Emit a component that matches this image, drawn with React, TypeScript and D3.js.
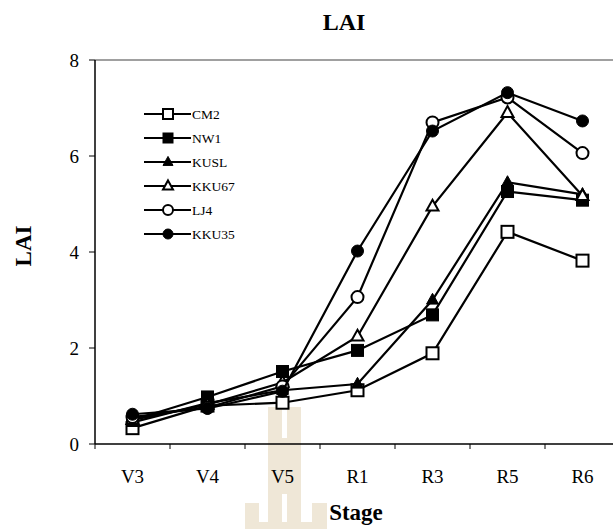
import React from 'react';
import * as d3 from 'd3';

const stages = ['V3', 'V4', 'V5', 'R1', 'R3', 'R5', 'R6'];
const yTicks = [0, 2, 4, 6, 8];

const seriesNames = ['CM2', 'NW1', 'KUSL', 'KKU67', 'LJ4', 'KKU35'];
const cm2 = [0.33, 0.8, 0.86, 1.12, 1.89, 4.42, 3.82];
const nw1 = [0.5, 0.98, 1.51, 1.95, 2.69, 5.26, 5.08];
const kusl = [0.45, 0.85, 1.12, 1.25, 3.0, 5.45, 5.2];
const kku67 = [0.5, 0.82, 1.28, 2.24, 4.95, 6.9, 5.17];
const lj4 = [0.56, 0.76, 1.2, 3.06, 6.7, 7.22, 6.06];
const kku35 = [0.62, 0.74, 1.1, 4.02, 6.52, 7.32, 6.73];
const markers = ['openSquare', 'square', 'triangle', 'openTriangle', 'openCircle', 'circle'];

const W = 613;
const H = 529;
const font = '"Liberation Serif", "Times New Roman", serif';

function Marker({ kind, x, y, s }: { kind: string; x: number; y: number; s: number }) {
  const open = kind.startsWith('open');
  const fill = open ? '#fff' : '#000';
  const sw = open ? 2 : 1;
  if (kind.toLowerCase().includes('square')) {
    return <rect x={x - s / 2} y={y - s / 2} width={s} height={s} fill={fill} stroke="#000" strokeWidth={sw} />;
  }
  if (kind.toLowerCase().includes('circle')) {
    return <circle cx={x} cy={y} r={s / 2} fill={fill} stroke="#000" strokeWidth={sw} />;
  }
  const h = s * 0.9;
  const p = `M${x},${y - h * 0.62}L${x + s / 2},${y + h * 0.38}L${x - s / 2},${y + h * 0.38}Z`;
  return <path d={p} fill={fill} stroke="#000" strokeWidth={sw} strokeLinejoin="miter" />;
}

export default function App() {
  const data = [cm2, nw1, kusl, kku67, lj4, kku35];

  const x = d3.scaleBand().domain(stages).range([95, 620]).padding(0);
  const y = d3.scaleLinear().domain([0, 8]).range([444, 60]);
  const cx = (s: string) => (x(s) as number) + x.bandwidth() / 2;

  const line = d3
    .line<number>()
    .x((_, i) => cx(stages[i]))
    .y((d) => y(d));

  return (
    <svg width={W} height={H} style={{ position: 'absolute', left: 0, top: 0, background: '#fff' }} fontFamily={font}>
      {/* watermark */}
      <g fill="#efe7d7">
        <rect x={268} y={407} width={33} height={122} />
        <rect x={245} y={503} width={14} height={26} />
        <rect x={312} y={503} width={15} height={26} />
        <rect x={245} y={522} width={82} height={7} />
      </g>
      <g fill="#fff">
        <rect x={282} y={407} width={5} height={31} />
        <rect x={282} y={494} width={5} height={28} />
        <rect x={259} y={503} width={9} height={19} />
        <rect x={301} y={503} width={11} height={19} />
      </g>

      {/* frame */}
      <line x1={95} x2={W} y1={y(8)} y2={y(8)} stroke="#808080" strokeWidth={1.5} />
      <line x1={95} x2={95} y1={y(8)} y2={y(0)} stroke="#000" strokeWidth={1.5} />
      <line x1={95} x2={W} y1={y(0)} y2={y(0)} stroke="#000" strokeWidth={1.5} />

      {yTicks.map((t) => (
        <g key={t}>
          <line x1={89} x2={95} y1={y(t)} y2={y(t)} stroke="#000" strokeWidth={1} />
          <text x={79} y={y(t) + 6.5} textAnchor="end" fontSize={19}>{t}</text>
        </g>
      ))}
      {stages.map((s) => (
        <g key={s}>
          <line x1={(x(s) as number)} x2={(x(s) as number)} y1={y(0)} y2={y(0) + 5} stroke="#000" strokeWidth={1} />
          <text x={cx(s)} y={483} textAnchor="middle" fontSize={19}>{s}</text>
        </g>
      ))}

      {/* series */}
      {data.map((vals, k) => (
        <g key={seriesNames[k]}>
          <path d={line(vals) || ''} fill="none" stroke="#000" strokeWidth={2.2} />
          {vals.map((v, i) => (
            <Marker key={i} kind={markers[k]} x={cx(stages[i])} y={y(v)} s={12} />
          ))}
        </g>
      ))}

      {/* legend */}
      {seriesNames.map((n, k) => {
        const ly = 114 + k * 24;
        return (
          <g key={n}>
            <line x1={144} x2={191} y1={ly} y2={ly} stroke="#000" strokeWidth={2.2} />
            <Marker kind={markers[k]} x={168} y={ly} s={10} />
            <text x={192} y={ly + 4.5} fontSize={13.5}>{n}</text>
          </g>
        );
      })}

      <text x={344} y={30} textAnchor="middle" fontSize={24} fontWeight="bold">LAI</text>
      <text x={356} y={520} textAnchor="middle" fontSize={23} fontWeight="bold">Stage</text>
      <text transform={`translate(31,${246}) rotate(-90)`} textAnchor="middle" fontSize={23} fontWeight="bold">LAI</text>
    </svg>
  );
}
